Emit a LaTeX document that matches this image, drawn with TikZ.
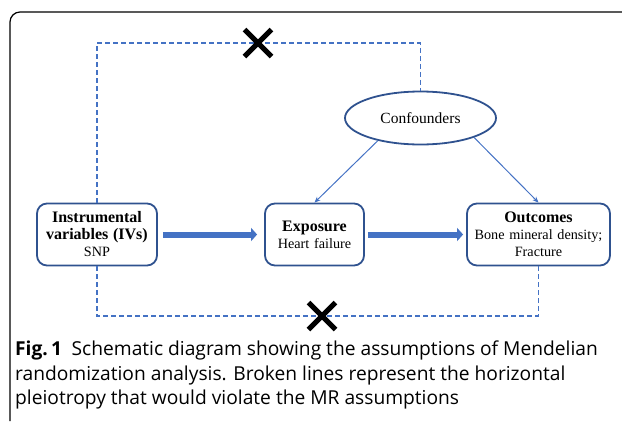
\documentclass[tikz,border=0pt]{standalone}
\usepackage{fontspec}
\setmainfont{Liberation Serif}
\newfontfamily\capfont{Open Sans}
\usetikzlibrary{arrows.meta,positioning,shapes.geometric,shapes.misc}
\definecolor{MRNavy}{HTML}{2F528F}
\definecolor{MRBlue}{HTML}{4472C4}
\newcommand\hd[1]{{\fontsize{16}{17}\selectfont\bfseries #1}}

\begin{document}
\begin{tikzpicture}[x=1pt,y=-1pt,
  box/.style={draw=MRNavy,line width=1.8pt,rounded corners=10pt,minimum height=62pt,inner sep=0pt,align=center,font=\fontsize{14.2}{17}\selectfont},
  oval/.style={ellipse,draw=MRNavy,line width=1.8pt,minimum width=151pt,minimum height=53pt,inner sep=0pt,font=\fontsize{15.5}{18}\selectfont},
  fat/.style={-{Triangle[width=13pt,length=6pt]},line width=6pt,draw=MRBlue},
  ln/.style={-{Stealth[length=6pt,width=5pt]},line width=1pt,draw=MRBlue},
  dsh/.style={draw=MRBlue,line width=1.3pt,dash pattern=on 5pt off 3pt},
  xm/.style={draw=black,cross out,line width=5pt,minimum size=22pt,inner sep=0pt}]
\useasboundingbox (0,0) rectangle (622,421);
% frame of the figure
\draw[line width=1.2pt,rounded corners=10pt] (10,421) -- (10,12) -- (622,12);
% boxes
\node[box,text width=120pt] (iv) at (97,234.5) {\hd{Instrumental}\\\hd{variables (IVs)}\\SNP};
\node[box,text width=99pt] (ex) at (314.5,234.5) {\hd{Exposure}\\Heart failure};
\node[box,text width=143pt] (out) at (538.5,234.5) {\hd{Outcomes}\\Bone mineral density;\\Fracture};
\node[oval] (cf) at (420.5,118) {Confounders};
% arrows
\draw[fat,shorten <=5pt,shorten >=7pt] (iv) -- (ex);
\draw[fat,shorten <=3pt,shorten >=3pt] (ex) -- (out);
\draw[ln] (cf.208) -- (ex.north);
\draw[ln] (cf.340) -- (out.north);
% pleiotropy paths
\coordinate (xt) at (258,43);
\coordinate (xb) at (322,316);
\draw[dsh] (iv.north) |- (xt) -| (cf.north);
\draw[dsh] (iv.south) |- (xb) -| (out.south);
\node[xm] (xt1) at (xt) {};
\node[xm] (xb1) at (xb) {};
% caption
\node[anchor=north west,align=left,inner sep=0pt,font=\capfont\fontsize{19.2}{24.5}\selectfont] (cap) at (15,341)
  {\textbf{Fig.\,1}\enspace Schematic diagram showing the assumptions of Mendelian\\randomization analysis. Broken lines represent the horizontal\\pleiotropy that would violate the MR assumptions};
\end{tikzpicture}
\end{document}
